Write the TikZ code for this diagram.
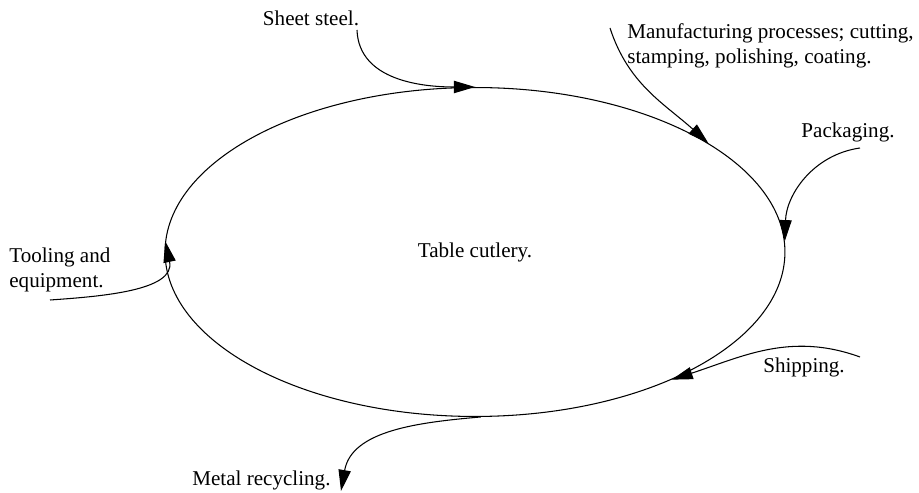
\documentclass[tikz,border=0pt]{standalone}
\usepackage{fontspec}
\setmainfont{Liberation Serif}
\usetikzlibrary{arrows.meta,shapes.geometric}

\begin{document}
\begin{tikzpicture}[x=0.02cm,y=0.02cm,>={Triangle[length=12pt,width=7pt]},
 flow/.style={->,line width=0.6pt},
 lbl/.style={font=\fontsize{12}{14.5}\selectfont,inner sep=0pt}]
\useasboundingbox (0,0) rectangle (919,493);
% the product cycle
\node[draw,ellipse,line width=0.6pt,minimum width=12.4cm,minimum height=6.58cm,inner sep=0pt,lbl] (cut) at (475,241) {Table cutlery.};

% inputs and outputs round the cycle
\node[lbl] (steel) at (311,475) {Sheet steel.};
\node[lbl,anchor=west,align=left] (manuf) at (627,447) {Manufacturing processes; cutting,\\stamping, polishing, coating.};
\node[lbl] (pack) at (848,361) {Packaging.};
\node[lbl] (ship) at (804,126) {Shipping.};
\node[lbl,anchor=west,align=left] (tool) at (9,223) {Tooling and\\equipment.};
\node[lbl,anchor=west] (recyc) at (192,13) {Metal recycling.};

\coordinate (steelend) at (357,463);
\coordinate (manufend) at (610,465);
\coordinate (packend) at (860,345);
\coordinate (shipend) at (860,136);
\coordinate (toolend) at (50,193);
\coordinate (recycend) at (341,2);

\draw[flow] (steelend) to[out=-88,in=180] (cut.90);
\draw[flow] (manufend) to[out=-72,in=138] (cut.25);
\draw[flow] (packend) to[out=188,in=88] (cut.2);
\draw[flow] (shipend) to[out=160,in=18] (cut.-33);
\draw[flow] (toolend) to[out=4,in=-78] (cut.178);
\draw[flow] (cut.-88) to[out=185,in=80] (recycend);
\end{tikzpicture}
\end{document}
